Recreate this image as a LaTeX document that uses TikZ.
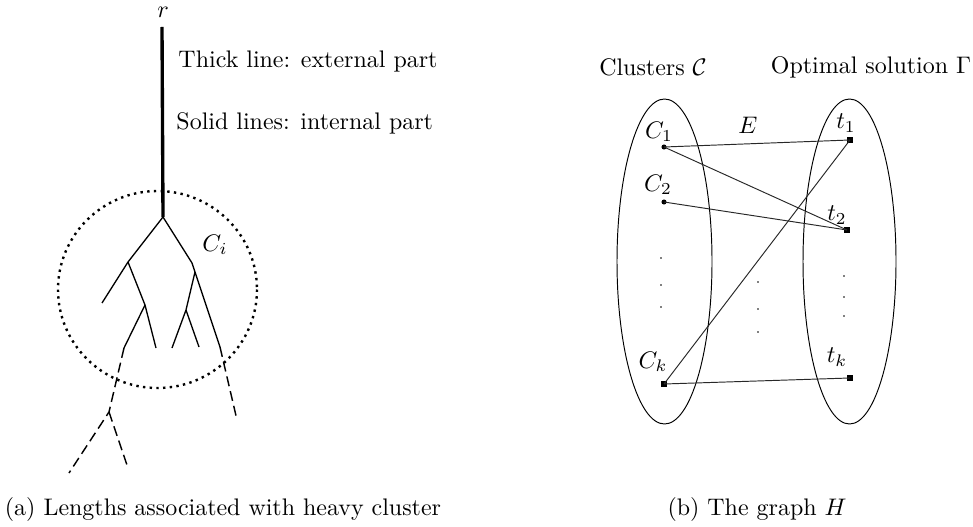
\documentclass[tikz,border=0pt]{standalone}
\usepackage{amsmath,amssymb}
\usepackage{xcolor}
\usepackage{tikz}
\usetikzlibrary{calc,positioning}
\definecolor{edgeGray}{RGB}{40,40,40}

\tikzset{
  treeline/.style={black, line width=0.55pt},
  extline/.style={black, line width=0.6pt, dash pattern=on 4.2pt off 2.1pt},
  vdot/.style={circle, fill=black, inner sep=0pt, minimum size=2.1pt},
  vsq/.style={rectangle, fill=black, inner sep=0pt, minimum size=2.5pt},
  gedge/.style={edgeGray, line width=0.4pt}
}

\begin{document}
\begin{tikzpicture}[x=0.1467mm, y=-0.1467mm]
\useasboundingbox (0,0) rectangle (973,527);

% (a) heavy cluster
\coordinate (root) at (162,27);
\coordinate (j) at (163,217);
\coordinate (l1) at (128,262);
\coordinate (l1a) at (102,303);
\coordinate (l2) at (145,305);
\coordinate (l2a) at (124,348);
\coordinate (l2b) at (156,348);
\coordinate (r2) at (195,272);
\coordinate (r3) at (220,347);
\coordinate (r2a) at (186,310);
\coordinate (r2b) at (172,348);
\coordinate (r2c) at (199,347);
\coordinate (d1) at (109,412);

\node (rlab) at (163,12) {$r$};
\draw[line width=1.4pt] (root)--(j);
\draw[treeline] (j)--(l1)--(l1a);
\draw[treeline] (l1)--(l2)--(l2a);
\draw[treeline] (l2)--(l2b);
\draw[treeline] (j)--(192,263)--(r2)--(r3);
\draw[treeline] (r2)--(r2a)--(r2b);
\draw[treeline] (r2a)--(r2c);
\draw[extline] (l2a)--(d1)--(69,473);
\draw[extline] (d1)--(127,465);
\draw[extline] (r3)--(237,420);

\draw[line width=1pt, dash pattern=on 1pt off 1.8pt] (157.5,289.5) ellipse [x radius=99.5, y radius=98.5];
\node (ci) at (215,245) {$C_i$};

\node[anchor=west, inner sep=0pt] (thick) at (178,62) {Thick line: external part};
\node[anchor=west, inner sep=0pt] (solid) at (176,123) {Solid lines: internal part};

\node (capa) at (223,510) {(a) Lengths associated with heavy cluster};

% (b) the graph H
\node (clus) at (653,67) {Clusters $\mathcal{C}$};
\node (opt) at (871,67) {Optimal solution $\Gamma$};

\draw[line width=0.4pt] (664.5,261.5) ellipse [x radius=47.5, y radius=162.5];
\draw[line width=0.4pt] (849.5,261.5) ellipse [x radius=46.5, y radius=162.5];

\node[vdot] (c1) at (664,147) {};
\node[vdot] (c2) at (664,202) {};
\node[vsq] (ck) at (664,384) {};
\node[vsq] (t1) at (850,140) {};
\node[vsq] (t2) at (847,230) {};
\node[vsq] (tk) at (850,378) {};

\node (c1lab) at (659,132) {$C_1$};
\node (c2lab) at (658,185) {$C_2$};
\node (cklab) at (653,362) {$C_k$};
\node (t1lab) at (846,123) {$t_1$};
\node (t2lab) at (837,215) {$t_2$};
\node (tklab) at (837,357) {$t_k$};
\node (elab) at (748,125) {$E$};

\draw[gedge] (c1.center)--(t1.center);
\draw[gedge] (c1.center)--(t2.center);
\draw[gedge] (c2.center)--(t2.center);
\draw[gedge] (ck.center)--(t1.center);
\draw[gedge] (ck.center)--(tk.center);

\foreach \y in {258,285,307} \fill (661,\y) circle (0.4pt);
\foreach \y in {282,309,332} \fill (758,\y) circle (0.4pt);
\foreach \y in {276,297,316} \fill (844,\y) circle (0.4pt);

\node (capb) at (757,510) {(b) The graph $H$};
\end{tikzpicture}
\end{document}
